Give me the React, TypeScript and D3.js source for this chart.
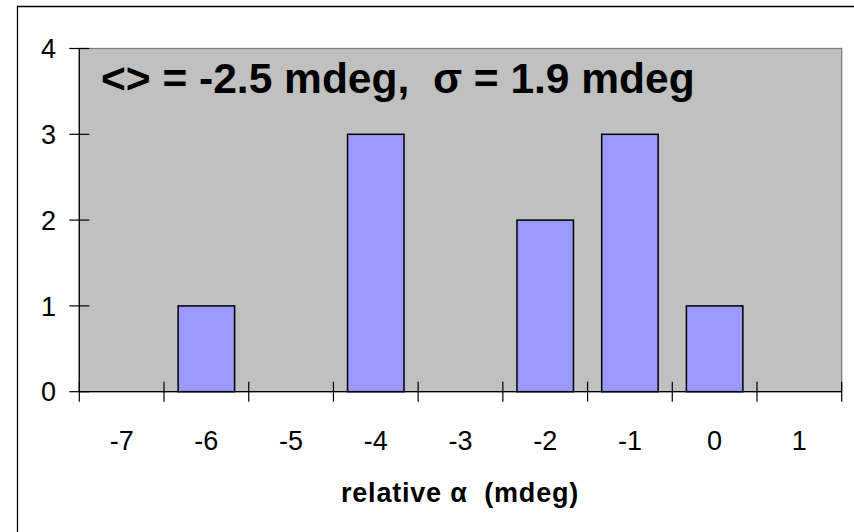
import React from "react";
import * as d3 from "d3";

const categories = ["-7", "-6", "-5", "-4", "-3", "-2", "-1", "0", "1"];
const counts = [0, 1, 0, 3, 0, 2, 3, 1, 0];
const yTicks = [0, 1, 2, 3, 4];
const titleText = "<> = -2.5 mdeg,  \u03C3 = 1.9 mdeg";
const xAxisTitle = "relative \u03B1  (mdeg)";

export default function App() {
  const W = 854;
  const H = 532;
  const left = 79.3;
  const right = 841.7;
  const top = 48.5;
  const bottom = 391.7;

  const x = d3.scaleBand<string>().domain(categories).range([left, right]).paddingInner(0).paddingOuter(0);
  const y = d3.scaleLinear().domain([0, 4]).range([bottom, top]);
  const bw = x.bandwidth();
  const barW = bw / 1.5;
  const font = "'Liberation Sans', Arial, sans-serif";
  const boundaries = d3.range(categories.length + 1).map((i) => left + i * bw);

  return (
    <div style={{ position: "fixed", left: 0, top: 0 }}>
      <svg width={W} height={H} style={{ display: "block" }}>
        <rect x={0} y={0} width={W} height={H} fill="#fff" />
        <path d={`M17.5,${H} V6.5 H${W}`} fill="none" stroke="#000" strokeWidth={1.3} />
        <rect x={left} y={top} width={right - left} height={bottom - top} fill="#C0C0C0" stroke="#808080" strokeWidth={1.3} />
        {categories.map((c, i) =>
          counts[i] > 0 ? (
            <rect
              key={c}
              x={(x(c) as number) + (bw - barW) / 2}
              y={y(counts[i])}
              width={barW}
              height={y(0) - y(counts[i])}
              fill="#9999FF"
              stroke="#000"
              strokeWidth={1.5}
            />
          ) : null
        )}
        <line x1={left} x2={left} y1={top} y2={bottom} stroke="#000" strokeWidth={1.2} />
        <line x1={left} x2={right} y1={bottom} y2={bottom} stroke="#000" strokeWidth={1.2} />
        {yTicks.map((t) => (
          <g key={t}>
            <line x1={left - 10} x2={left + 10} y1={y(t)} y2={y(t)} stroke="#000" strokeWidth={1.2} />
            <text x={56} y={y(t)} dy="0.36em" textAnchor="end" fontFamily={font} fontSize={27} fill="#000">
              {t}
            </text>
          </g>
        ))}
        {boundaries.map((b, i) => (
          <line key={i} x1={b} x2={b} y1={bottom - 10} y2={bottom + 10} stroke="#000" strokeWidth={1.2} />
        ))}
        {categories.map((c) => (
          <text
            key={c}
            x={(x(c) as number) + bw / 2}
            y={449.5}
            textAnchor="middle"
            fontFamily={font}
            fontSize={27}
            fill="#000"
          >
            {c}
          </text>
        ))}
        <text x={101} y={93} fontFamily={font} fontSize={42.5} fontWeight="bold" fill="#000" style={{ whiteSpace: "pre" }}>
          {titleText}
        </text>
        <text x={460} y={501.7} textAnchor="middle" fontFamily={font} fontSize={27} letterSpacing={0.8} fontWeight="bold" fill="#000" style={{ whiteSpace: "pre" }}>
          {xAxisTitle}
        </text>
      </svg>
    </div>
  );
}
